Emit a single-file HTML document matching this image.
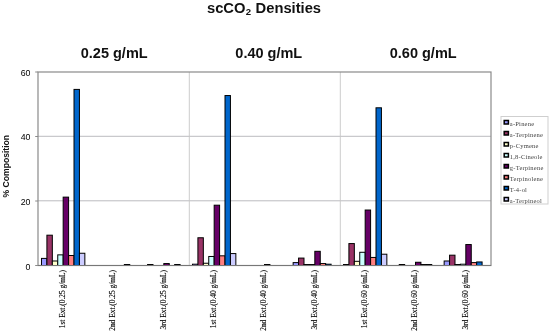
<!DOCTYPE html><html><head><meta charset="utf-8"><title>scCO2 Densities</title><style>html,body{margin:0;padding:0;background:#fff;}svg{display:block;}text{filter:grayscale(1);font-family:"Liberation Sans",sans-serif;}.s{font-family:"Liberation Serif",serif;}</style></head><body>
<svg width="550" height="333" viewBox="0 0 550 333">
<rect width="550" height="333" fill="#fff"/><g>
<line x1="38.0" x2="491.0" y1="200.80" y2="200.80" stroke="#b4b4b8" stroke-width="0.9"/>
<line x1="38.0" x2="491.0" y1="136.30" y2="136.30" stroke="#b4b4b8" stroke-width="0.9"/>
<line x1="189.30" x2="189.30" y1="72.0" y2="265.5" stroke="#c6c6c6" stroke-width="0.9"/>
<line x1="340.30" x2="340.30" y1="72.0" y2="265.5" stroke="#c6c6c6" stroke-width="0.9"/>
<rect x="38.0" y="72.0" width="453.0" height="193.5" fill="none" stroke="#8a8a8a" stroke-width="1.2"/>
<line x1="35.2" x2="38.0" y1="265.50" y2="265.50" stroke="#8a8a8a" stroke-width="1"/>
<line x1="35.2" x2="38.0" y1="201.00" y2="201.00" stroke="#8a8a8a" stroke-width="1"/>
<line x1="35.2" x2="38.0" y1="136.50" y2="136.50" stroke="#8a8a8a" stroke-width="1"/>
<line x1="35.2" x2="38.0" y1="72.00" y2="72.00" stroke="#8a8a8a" stroke-width="1"/>
<rect x="41.49" y="258.40" width="5.42" height="7.10" fill="#9999FF" stroke="#000" stroke-width="1"/>
<rect x="46.91" y="235.19" width="5.42" height="30.32" fill="#993366" stroke="#000" stroke-width="1"/>
<rect x="52.33" y="260.99" width="5.42" height="4.51" fill="#FFFFCC" stroke="#000" stroke-width="1"/>
<rect x="57.75" y="254.86" width="5.42" height="10.64" fill="#CCFFFF" stroke="#000" stroke-width="1"/>
<rect x="63.17" y="197.13" width="5.42" height="68.37" fill="#660066" stroke="#000" stroke-width="1"/>
<rect x="68.59" y="255.50" width="5.42" height="10.00" fill="#FF8080" stroke="#000" stroke-width="1"/>
<rect x="74.01" y="89.41" width="5.42" height="176.09" fill="#0066CC" stroke="#000" stroke-width="1"/>
<rect x="79.43" y="253.25" width="5.42" height="12.25" fill="#CCCCFF" stroke="#000" stroke-width="1"/>
<rect x="124.34" y="264.53" width="5.42" height="0.97" fill="#0066CC" stroke="#000" stroke-width="1"/>
<rect x="147.57" y="264.53" width="5.42" height="0.97" fill="#993366" stroke="#000" stroke-width="1"/>
<rect x="163.83" y="263.56" width="5.42" height="1.94" fill="#660066" stroke="#000" stroke-width="1"/>
<rect x="174.67" y="264.53" width="5.42" height="0.97" fill="#0066CC" stroke="#000" stroke-width="1"/>
<rect x="192.49" y="264.21" width="5.42" height="1.29" fill="#9999FF" stroke="#000" stroke-width="1"/>
<rect x="197.91" y="237.76" width="5.42" height="27.73" fill="#993366" stroke="#000" stroke-width="1"/>
<rect x="203.33" y="263.24" width="5.42" height="2.26" fill="#FFFFCC" stroke="#000" stroke-width="1"/>
<rect x="208.75" y="256.47" width="5.42" height="9.03" fill="#CCFFFF" stroke="#000" stroke-width="1"/>
<rect x="214.17" y="205.19" width="5.42" height="60.31" fill="#660066" stroke="#000" stroke-width="1"/>
<rect x="219.59" y="255.82" width="5.42" height="9.68" fill="#FF8080" stroke="#000" stroke-width="1"/>
<rect x="225.01" y="95.54" width="5.42" height="169.96" fill="#0066CC" stroke="#000" stroke-width="1"/>
<rect x="230.43" y="253.57" width="5.42" height="11.93" fill="#CCCCFF" stroke="#000" stroke-width="1"/>
<rect x="264.50" y="264.53" width="5.42" height="0.97" fill="#660066" stroke="#000" stroke-width="1"/>
<rect x="293.15" y="262.60" width="5.42" height="2.90" fill="#9999FF" stroke="#000" stroke-width="1"/>
<rect x="298.57" y="258.08" width="5.42" height="7.42" fill="#993366" stroke="#000" stroke-width="1"/>
<rect x="303.99" y="264.53" width="5.42" height="0.97" fill="#FFFFCC" stroke="#000" stroke-width="1"/>
<rect x="309.41" y="264.53" width="5.42" height="0.97" fill="#CCFFFF" stroke="#000" stroke-width="1"/>
<rect x="314.83" y="251.31" width="5.42" height="14.19" fill="#660066" stroke="#000" stroke-width="1"/>
<rect x="320.25" y="263.56" width="5.42" height="1.94" fill="#FF8080" stroke="#000" stroke-width="1"/>
<rect x="325.67" y="264.21" width="5.42" height="1.29" fill="#0066CC" stroke="#000" stroke-width="1"/>
<rect x="343.49" y="264.53" width="5.42" height="0.97" fill="#9999FF" stroke="#000" stroke-width="1"/>
<rect x="348.91" y="243.57" width="5.42" height="21.93" fill="#993366" stroke="#000" stroke-width="1"/>
<rect x="354.33" y="261.31" width="5.42" height="4.19" fill="#FFFFCC" stroke="#000" stroke-width="1"/>
<rect x="359.75" y="252.28" width="5.42" height="13.22" fill="#CCFFFF" stroke="#000" stroke-width="1"/>
<rect x="365.17" y="210.03" width="5.42" height="55.47" fill="#660066" stroke="#000" stroke-width="1"/>
<rect x="370.59" y="257.44" width="5.42" height="8.06" fill="#FF8080" stroke="#000" stroke-width="1"/>
<rect x="376.01" y="107.80" width="5.42" height="157.70" fill="#0066CC" stroke="#000" stroke-width="1"/>
<rect x="381.43" y="254.21" width="5.42" height="11.29" fill="#CCCCFF" stroke="#000" stroke-width="1"/>
<rect x="399.24" y="264.53" width="5.42" height="0.97" fill="#993366" stroke="#000" stroke-width="1"/>
<rect x="415.50" y="262.27" width="5.42" height="3.23" fill="#660066" stroke="#000" stroke-width="1"/>
<rect x="420.92" y="264.53" width="5.42" height="0.97" fill="#FF8080" stroke="#000" stroke-width="1"/>
<rect x="426.34" y="264.53" width="5.42" height="0.97" fill="#0066CC" stroke="#000" stroke-width="1"/>
<rect x="444.15" y="260.99" width="5.42" height="4.51" fill="#9999FF" stroke="#000" stroke-width="1"/>
<rect x="449.57" y="255.18" width="5.42" height="10.32" fill="#993366" stroke="#000" stroke-width="1"/>
<rect x="454.99" y="264.53" width="5.42" height="0.97" fill="#FFFFCC" stroke="#000" stroke-width="1"/>
<rect x="460.41" y="264.21" width="5.42" height="1.29" fill="#CCFFFF" stroke="#000" stroke-width="1"/>
<rect x="465.83" y="244.54" width="5.42" height="20.96" fill="#660066" stroke="#000" stroke-width="1"/>
<rect x="471.25" y="262.60" width="5.42" height="2.90" fill="#FF8080" stroke="#000" stroke-width="1"/>
<rect x="476.67" y="261.95" width="5.42" height="3.55" fill="#0066CC" stroke="#000" stroke-width="1"/>
<line x1="38.0" x2="491.0" y1="265.5" y2="265.5" stroke="#777" stroke-width="1.2"/>
<text x="30.5" y="269.75" font-size="8.8" text-anchor="end" fill="#000">0</text>
<text x="30.5" y="204.65" font-size="8.8" text-anchor="end" fill="#000">20</text>
<text x="30.5" y="140.15" font-size="8.8" text-anchor="end" fill="#000">40</text>
<text x="30.5" y="75.65" font-size="8.8" text-anchor="end" fill="#000">60</text>
<text transform="translate(9.3,166.2) rotate(-90)" font-size="8.6" font-weight="bold" text-anchor="middle" fill="#111">% Composition</text>
<g transform="translate(264,0) scale(1.045,1)"><text x="0" y="13.5" font-size="14.1" font-weight="bold" text-anchor="middle" fill="#111">scCO<tspan font-size="9.2" dy="1.7" dx="0.3">2</tspan><tspan dy="-1.7" dx="0.4"> Densities</tspan></text></g>
<text x="114.2" y="58.1" font-size="14.5" font-weight="bold" text-anchor="middle" fill="#111">0.25 g/mL</text>
<text x="268.8" y="58.1" font-size="14.5" font-weight="bold" text-anchor="middle" fill="#111">0.40 g/mL</text>
<text x="423.2" y="58.1" font-size="14.5" font-weight="bold" text-anchor="middle" fill="#111">0.60 g/mL</text>
<text class="s" transform="translate(64.87,270) rotate(-90)" font-size="7.4" text-anchor="end" fill="#000" stroke="#000" stroke-width="0.12">1st Ext.(0.25 g/mL)</text>
<text class="s" transform="translate(115.20,270) rotate(-90)" font-size="7.4" text-anchor="end" fill="#000" stroke="#000" stroke-width="0.12">2nd Ext.(0.25 g/mL)</text>
<text class="s" transform="translate(165.53,270) rotate(-90)" font-size="7.4" text-anchor="end" fill="#000" stroke="#000" stroke-width="0.12">3rd Ext.(0.25 g/mL)</text>
<text class="s" transform="translate(215.87,270) rotate(-90)" font-size="7.4" text-anchor="end" fill="#000" stroke="#000" stroke-width="0.12">1st Ext.(0.40 g/mL)</text>
<text class="s" transform="translate(266.20,270) rotate(-90)" font-size="7.4" text-anchor="end" fill="#000" stroke="#000" stroke-width="0.12">2nd Ext.(0.40 g/mL)</text>
<text class="s" transform="translate(316.53,270) rotate(-90)" font-size="7.4" text-anchor="end" fill="#000" stroke="#000" stroke-width="0.12">3rd Ext.(0.40 g/mL)</text>
<text class="s" transform="translate(366.87,270) rotate(-90)" font-size="7.4" text-anchor="end" fill="#000" stroke="#000" stroke-width="0.12">1st Ext.(0.60 g/mL)</text>
<text class="s" transform="translate(417.20,270) rotate(-90)" font-size="7.4" text-anchor="end" fill="#000" stroke="#000" stroke-width="0.12">2nd Ext.(0.60 g/mL)</text>
<text class="s" transform="translate(467.53,270) rotate(-90)" font-size="7.4" text-anchor="end" fill="#000" stroke="#000" stroke-width="0.12">3rd Ext.(0.60 g/mL)</text>
<rect x="501" y="116.5" width="47" height="87.5" fill="#fff" stroke="#cfcfcf" stroke-width="1"/>
<rect x="504.2" y="120.5" width="4.2" height="3.5" fill="#9999FF" stroke="#000" stroke-width="1.5"/>
<text class="s" x="509.8" y="125.5" font-size="6.5" letter-spacing="0.22" fill="#444">a-Pinene</text>
<rect x="504.2" y="131.5" width="4.2" height="3.5" fill="#993366" stroke="#000" stroke-width="1.5"/>
<text class="s" x="509.8" y="136.5" font-size="6.5" letter-spacing="0.22" fill="#444">a-Terpinene</text>
<rect x="504.2" y="142.5" width="4.2" height="3.5" fill="#FFFFCC" stroke="#000" stroke-width="1.5"/>
<text class="s" x="509.8" y="147.5" font-size="6.5" letter-spacing="0.22" fill="#444">p-Cymene</text>
<rect x="504.2" y="153.5" width="4.2" height="3.5" fill="#CCFFFF" stroke="#000" stroke-width="1.5"/>
<text class="s" x="509.8" y="158.5" font-size="6.5" letter-spacing="0.22" fill="#444">1,8-Cineole</text>
<rect x="504.2" y="164.5" width="4.2" height="3.5" fill="#660066" stroke="#000" stroke-width="1.5"/>
<text class="s" x="509.8" y="169.5" font-size="6.5" letter-spacing="0.22" fill="#444">g-Terpinene</text>
<rect x="504.2" y="175.5" width="4.2" height="3.5" fill="#FF8080" stroke="#000" stroke-width="1.5"/>
<text class="s" x="509.8" y="180.5" font-size="6.5" letter-spacing="0.22" fill="#444">Terpinolene</text>
<rect x="504.2" y="186.5" width="4.2" height="3.5" fill="#0066CC" stroke="#000" stroke-width="1.5"/>
<text class="s" x="509.8" y="191.5" font-size="6.5" letter-spacing="0.22" fill="#444">T-4-ol</text>
<rect x="504.2" y="197.5" width="4.2" height="3.5" fill="#CCCCFF" stroke="#000" stroke-width="1.5"/>
<text class="s" x="509.8" y="202.5" font-size="6.5" letter-spacing="0.22" fill="#444">a-Terpineol</text>
</g></svg></body></html>
